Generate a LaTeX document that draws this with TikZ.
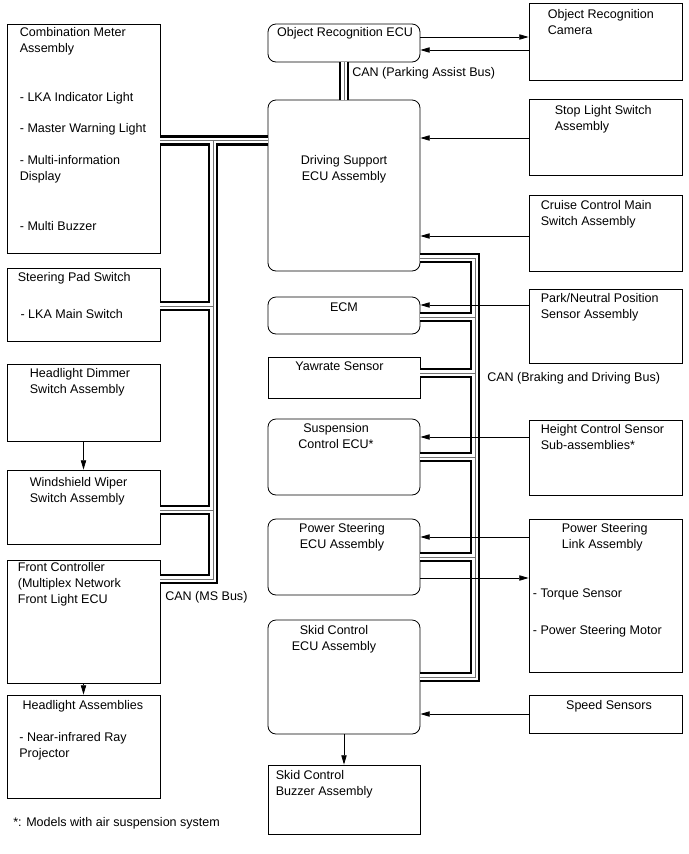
\documentclass[tikz,border=0pt]{standalone}
\usepackage{fontspec}
\setmainfont{Liberation Sans}
\usetikzlibrary{arrows.meta, positioning, fit}

\begin{document}
\begin{tikzpicture}[x=0.75pt, y=-0.75pt,
  every node/.style={font=\fontsize{9.4}{12}\selectfont},
  box/.style={draw, line width=0.6pt, inner sep=0pt},
  rbox/.style={box, rounded corners=6pt},
  txt/.style={inner sep=0pt, align=left, anchor=north west},
  ctxt/.style={inner sep=0pt, align=center, anchor=north},
  lbl/.style={inner sep=0pt, anchor=west},
  arr/.style={-{Triangle[length=7pt, width=4pt]}, line width=0.6pt},
  bus/.style={preaction={draw=black, line width=8pt},
              draw=white, line width=4.4pt,
              postaction={draw=black!55, line width=0.45pt}}
]
  \useasboundingbox (0,0) rectangle (689,854);

  % left column
  \node[box, fit={(7,24) (160,253)}]  (meter)  {};
  \node[box, fit={(7,268) (160,341)}] (pad)    {};
  \node[box, fit={(7,364) (160,441)}] (dimmer) {};
  \node[box, fit={(7,470) (160,544)}] (wiper)  {};
  \node[box, fit={(7,560) (160,683)}] (front)  {};
  \node[box, fit={(7,695) (160,798)}] (headl)  {};

  \node[txt] (meter-t) at ([shift={(13,3.5)}]meter.north west)
    {Combination Meter\\Assembly\\[24.75pt]- LKA Indicator Light\\[11.25pt]- Master Warning Light\\[12pt]- Multi-information\\Display\\[25.5pt]- Multi Buzzer};
  \node[txt] (pad-t) at ([shift={(11,4.5)}]pad.north west)
    {Steering Pad Switch\\[15.75pt]\hspace*{2pt}- LKA Main Switch};
  \node[txt] (dimmer-t) at ([shift={(23,4.5)}]dimmer.north west) {Headlight Dimmer\\Switch Assembly};
  \node[txt] (wiper-t) at ([shift={(23,7.5)}]wiper.north west) {Windshield Wiper\\Switch Assembly};
  \node[txt] (front-t) at ([shift={(11,2.5)}]front.north west) {Front Controller\\(Multiplex Network\\Front Light ECU};
  \node[txt] (headl-t) at ([shift={(12.5,5.5)}]headl.north west)
    {\hspace*{2.5pt}Headlight Assemblies\\[12pt]- Near-infrared Ray\\Projector};
  \node[txt] (note) at (13,817) {*: Models with air suspension system};

  % centre column
  \node[rbox, fit={(268,24) (420,62)}]   (objecu) {};
  \node[rbox, fit={(268,100) (420,271)}] (dsecu)  {};
  \node[rbox, fit={(268,297) (420,334)}] (ecm)    {};
  \node[box,  fit={(268,357) (420,398)}] (yaw)    {};
  \node[rbox, fit={(268,419) (420,495)}] (susp)   {};
  \node[rbox, fit={(268,519) (420,595)}] (psecu)  {};
  \node[rbox, fit={(268,620) (420,734)}] (skid)   {};
  \node[box,  fit={(268,765) (420,834)}] (buzzer) {};

  \node[ctxt] (objecu-t) at ([shift={(1,3.5)}]objecu.north) {Object Recognition ECU};
  \node[ctxt] (dsecu-t) at ([shift={(0,55.5)}]dsecu.north) {Driving Support\\ECU Assembly};
  \node[ctxt] (ecm-t) at ([shift={(0,5.5)}]ecm.north) {ECM};
  \node[ctxt] (yaw-t) at ([shift={(-4.5,4.5)}]yaw.north) {Yawrate Sensor};
  \node[ctxt] (susp-t) at ([shift={(-8,4.5)}]susp.north) {Suspension\\Control ECU*};
  \node[ctxt] (psecu-t) at ([shift={(-2,4.5)}]psecu.north) {Power Steering\\ECU Assembly};
  \node[ctxt] (skid-t) at ([shift={(-10,5.5)}]skid.north) {Skid Control\\ECU Assembly};
  \node[txt] (buzzer-t) at ([shift={(8,5.5)}]buzzer.north west) {Skid Control\\Buzzer Assembly};

  % right column
  \node[box, fit={(529,3) (682,80)}]    (cam)    {};
  \node[box, fit={(529,99) (682,175)}]  (stop)   {};
  \node[box, fit={(529,195) (682,271)}] (cruise) {};
  \node[box, fit={(529,289) (682,363)}] (pnp)    {};
  \node[box, fit={(529,420) (682,495)}] (height) {};
  \node[box, fit={(529,519) (682,672)}] (pslink) {};
  \node[box, fit={(529,695) (682,733)}] (speed)  {};

  \node[txt] (cam-t) at ([shift={(19,6.5)}]cam.north west) {Object Recognition\\Camera};
  \node[txt] (stop-t) at ([shift={(26,6.5)}]stop.north west) {Stop Light Switch\\Assembly};
  \node[txt] (cruise-t) at ([shift={(12,5.5)}]cruise.north west) {Cruise Control Main\\Switch Assembly};
  \node[txt] (pnp-t) at ([shift={(12,4.5)}]pnp.north west) {Park/Neutral Position\\Sensor Assembly};
  \node[txt] (height-t) at ([shift={(12,4.5)}]height.north west) {Height Control Sensor\\Sub-assemblies*};
  \node[txt] (pslink-t) at ([shift={(33,4.5)}]pslink.north west) {Power Steering\\Link Assembly};
  \node[txt] (pslink-l) at ([shift={(4,69.5)}]pslink.north west) {- Torque Sensor\\[15.75pt]- Power Steering Motor};
  \node[ctxt] (speed-t) at ([shift={(3.5,5.5)}]speed.north) {Speed Sensors};

  % CAN buses
  \coordinate (ms) at (213,140.5);
  \coordinate (bd) at (475,258);
  \draw[bus] (objecu.south) -- (dsecu.north);
  \draw[bus] (meter.east |- ms) -- (dsecu.west |- ms)
    (ms) -- (ms |- 0,579) -- (front.east |- 0,579)
    (pad.east |- 0,306) -- (ms |- 0,306)
    (wiper.east |- 0,510) -- (ms |- 0,510);
  \draw[bus] (dsecu.east |- bd) -- (bd) -- (bd |- 0,677) -- (skid.east |- 0,677)
    (ecm.east |- 0,317) -- (bd |- 0,317)
    (yaw.east |- 0,373) -- (bd |- 0,373)
    (susp.east |- 0,457) -- (bd |- 0,457)
    (psecu.east |- 0,557) -- (bd |- 0,557);

  \node[lbl] (can-pa) at (352,73)  {CAN (Parking Assist Bus)};
  \node[lbl] (can-ms) at (165,597) {CAN (MS Bus)};
  \node[lbl] (can-bd) at (487,378) {CAN (Braking and Driving Bus)};

  % signal lines
  \draw[arr] (objecu.east |- 0,37) -- (cam.west |- 0,37);
  \draw[arr] (cam.west |- 0,50) -- (objecu.east |- 0,50);
  \draw[arr] (stop.west |- 0,138) -- (dsecu.east |- 0,138);
  \draw[arr] (cruise.west |- 0,236) -- (dsecu.east |- 0,236);
  \draw[arr] (pnp.west |- 0,305) -- (ecm.east |- 0,305);
  \draw[arr] (height.west |- 0,437) -- (susp.east |- 0,437);
  \draw[arr] (pslink.west |- 0,537) -- (psecu.east |- 0,537);
  \draw[arr] (psecu.east |- 0,578) -- (pslink.west |- 0,578);
  \draw[arr] (speed.west |- 0,714) -- (skid.east |- 0,714);
  \draw[arr] (skid.south) -- (buzzer.north);
  \draw[arr] (dimmer.south) -- (wiper.north);
  \draw[arr] (front.south) -- (headl.north);
\end{tikzpicture}
\end{document}
